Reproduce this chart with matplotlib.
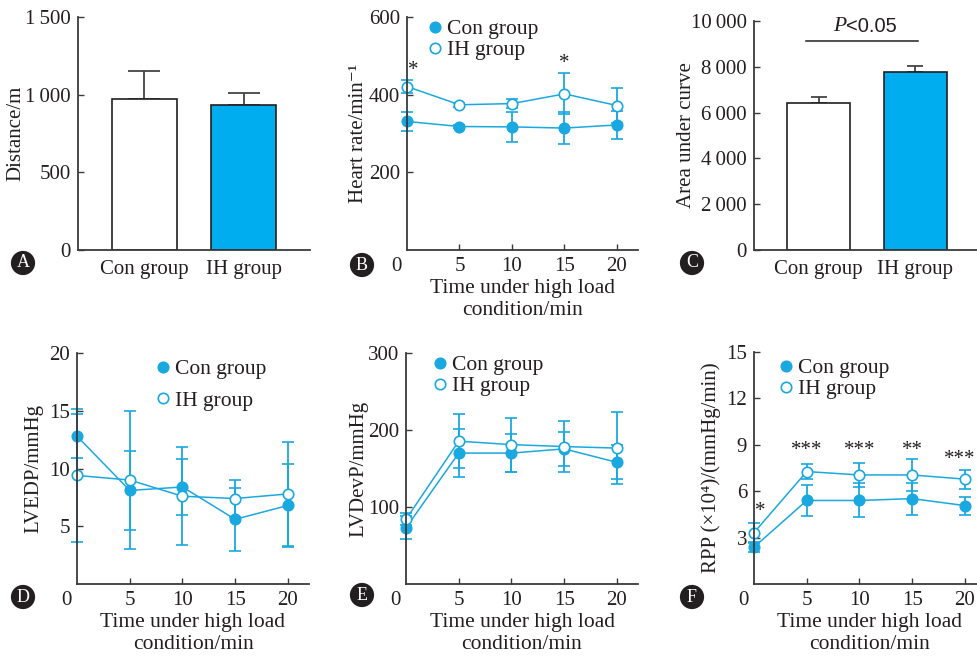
import matplotlib.pyplot as plt
from matplotlib.lines import Line2D

W, H = 978, 657
plt.rcParams['font.family'] = ['Liberation Serif', 'DejaVu Serif']

BLUE = '#00aeef'
LINE = '#1aa8e0'
INK = '#231f20'
FS = 15

# data
groups = ['Con group', 'IH group']
distance = [975, 935]
distance_err = [175, 75]
auc = [6400, 7790]
auc_err = [260, 250]

time = [0, 5, 10, 15, 20]
hr_con = [331, 318, 317, 314, 322]
hr_con_err = [25, 5, 38, 42, 37]
hr_ih = [421, 374, 377, 402, 372]
hr_ih_err = [16, 5, 12, 53, 44]

lvedp_con = [12.8, 8.1, 8.4, 5.6, 6.8]
lvedp_con_err = [1.9, 3.4, 2.4, 2.7, 3.6]
lvedp_ih = [9.4, 9.0, 7.6, 7.4, 7.8]
lvedp_ih_err = [5.75, 6.0, 4.25, 1.6, 4.5]

lvdevp_con = [73, 170, 170, 175.5, 158]
lvdevp_con_err = [15, 31, 25, 22.5, 22]
lvdevp_ih = [84, 185.5, 181, 178.5, 176.5]
lvdevp_ih_err = [8, 35, 35, 33.5, 47]

rpp_con = [2.38, 5.4, 5.4, 5.52, 5.07]
rpp_con_err = [0.3, 1.0, 1.1, 1.03, 0.58]
rpp_ih = [3.32, 7.27, 7.05, 7.05, 6.78]
rpp_ih_err = [0.6, 0.48, 0.8, 1.05, 0.62]
rpp_stars = ['*', '***', '***', '**', '***']

xlabel = 'Time under high load\ncondition/min'


def box(l, t, r, b):
    return [l / W, 1 - b / H, (r - l) / W, (b - t) / H]


def style(ax):
    for s in ['top', 'right']:
        ax.spines[s].set_visible(False)
    for s in ['left', 'bottom']:
        ax.spines[s].set_color('#3a3a3a')
        ax.spines[s].set_linewidth(1.3)
    ax.tick_params(direction='in', length=4, width=1, color='#3a3a3a',
                   labelsize=FS, labelcolor=INK, pad=5)


def bar_panel(ax, vals, errs, ymax, yticks, ylabels, capsize):
    x = [0, 1]
    ax.bar(x, vals, width=0.65, color=['white', BLUE], edgecolor=INK,
           linewidth=1.2, zorder=2)
    ax.errorbar(x, vals, yerr=[[0, 0], errs], fmt='none', ecolor='#444444',
                elinewidth=1.3, capsize=capsize, capthick=1.3, zorder=1)
    ax.set_xlim(-0.67, 1.67)
    ax.set_ylim(0, ymax)
    ax.set_xticks(x)
    ax.set_xticklabels(groups)
    ax.set_yticks(yticks)
    ax.set_yticklabels(ylabels)
    style(ax)
    ax.tick_params(axis='x', length=0, pad=7)


def line_panel(ax, con, con_err, ih, ih_err, ymax, yticks):
    kw = dict(fmt='-o', color=LINE, ms=7.5, lw=1.1, elinewidth=1.3,
              capsize=4, capthick=1.3, mec=LINE, mew=1.2)
    ax.errorbar(time, con, yerr=con_err, mfc=LINE, **kw)
    ax.errorbar(time, ih, yerr=ih_err, mfc='white', **kw)
    ax.set_xlim(0, 22)
    ax.set_ylim(0, ymax)
    ax.set_xticks(time[1:])
    ax.set_yticks(yticks)
    style(ax)
    for a in ax.get_children():
        if hasattr(a, 'set_clip_on'):
            a.set_clip_on(False)
    ax.annotate('0', xy=(0, 0), xycoords='axes fraction', xytext=(-7.5, -5),
                textcoords='offset points', ha='center', va='top',
                fontsize=FS, color=INK)
    ax.set_xlabel(xlabel, fontsize=15.5, color=INK, labelpad=2)


def add_legend(ax, mx, top, spacing):
    handles = [Line2D([], [], ls='none', marker='o', ms=7.5, color=LINE,
                      mfc=LINE, mew=1.2),
               Line2D([], [], ls='none', marker='o', ms=7.5, color=LINE,
                      mfc='white', mew=1.2)]
    ax.legend(handles, groups, loc='upper left',
              bbox_to_anchor=((mx - 4) / W, 1 - top / H),
              bbox_transform=fig.transFigure, frameon=False, fontsize=15.5,
              handlelength=0.55, handletextpad=0.3, borderpad=0,
              borderaxespad=0, labelspacing=spacing, labelcolor=INK)


def ylab(ax, text, right_px, l, r):
    ax.set_ylabel(text, fontsize=15, color=INK)
    ax.yaxis.set_label_coords((right_px - l) / (r - l), 0.5)


fig = plt.figure(figsize=(W / 100, H / 100), dpi=100)

# A
axA = fig.add_axes(box(78, 17, 310, 250))
bar_panel(axA, distance, distance_err, 1500, [0, 500, 1000, 1500],
          ['0', '500', '1\u2009000', '1\u2009500'], 11.5)
ylab(axA, 'Distance/m', 25, 78, 310)

# B
axB = fig.add_axes(box(407, 17, 638, 250))
line_panel(axB, hr_con, hr_con_err, hr_ih, hr_ih_err, 600, [200, 400, 600])
ylab(axB, 'Heart rate/min\u207b\u00b9', 368, 407, 638)
add_legend(axB, 433, 19, 0.05)
axB.text(0.6, 463, '*', ha='center', va='center', fontsize=FS, color=INK)
axB.text(15, 480, '*', ha='center', va='center', fontsize=FS, color=INK)

# C
axC = fig.add_axes(box(754, 21, 980, 250))
bar_panel(axC, auc, auc_err, 10000, [0, 2000, 4000, 6000, 8000, 10000],
          ['0', '2\u2009000', '4\u2009000', '6\u2009000', '8\u2009000',
           '10\u2009000'], 6)
ylab(axC, 'Area under curve', 696, 754, 980)
axC.plot([-0.13, 1.03], [9130, 9130], color=INK, lw=1.1)
axC.text(0.28, 9350, 'P', ha='right', va='bottom', fontsize=15.5,
         style='italic', color=INK)
axC.text(0.28, 9350, '<0.05', ha='left', va='bottom', fontsize=14.5,
         family='Liberation Sans', color=INK)

# D
axD = fig.add_axes(box(77, 353, 309, 584))
line_panel(axD, lvedp_con, lvedp_con_err, lvedp_ih, lvedp_ih_err, 20,
           [5, 10, 15, 20])
ylab(axD, 'LVEDP/mmHg', 43, 77, 309)
add_legend(axD, 161, 359, 0.55)

# E
axE = fig.add_axes(box(406, 353, 638, 584))
line_panel(axE, lvdevp_con, lvdevp_con_err, lvdevp_ih, lvdevp_ih_err, 300,
           [100, 200, 300])
ylab(axE, 'LVDevP/mmHg', 368, 406, 638)
add_legend(axE, 438, 355, 0.05)

# F
axF = fig.add_axes(box(754, 352, 986, 584))
line_panel(axF, rpp_con, rpp_con_err, rpp_ih, rpp_ih_err, 15,
           [3, 6, 9, 12, 15])
ylab(axF, 'RPP (\u00d710\u2074)/(mmHg/min)', 721, 754, 986)
add_legend(axF, 784, 358, 0.05)
star_x = [0.6, 5, 10, 15, 19.55]
star_y = [4.7, 8.6, 8.6, 8.6, 8.05]
for sx, sy, s in zip(star_x, star_y, rpp_stars):
    axF.text(sx, sy, s, ha='center', va='center', fontsize=FS, color=INK)

# panel letters
letters = ['A', 'B', 'C', 'D', 'E', 'F']
letter_xy = [(23, 263), (362, 265), (692, 263), (23, 597), (362, 595),
             (692, 597)]
for ch, (px, py) in zip(letters, letter_xy):
    fig.text(px / W, 1 - py / H, ch, ha='center', va='center', fontsize=13,
             color='white',
             bbox=dict(boxstyle='circle,pad=0.2', fc=INK, ec='none'))

fig.savefig('out.png', dpi=100)
